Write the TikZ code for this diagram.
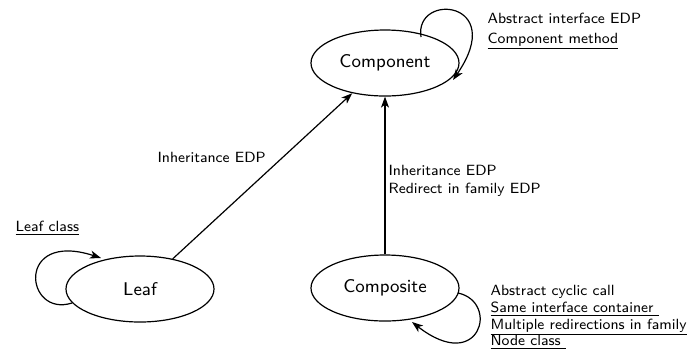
\documentclass[tikz,border=0pt]{standalone}
\usetikzlibrary{shapes.geometric,arrows.meta}
\begin{document}
\begin{tikzpicture}[x=0.5pt,y=-0.5pt,
  line width=0.6pt,
  state/.style={draw,ellipse,minimum width=74pt,minimum height=33pt,inner sep=0pt,
    font=\sffamily\fontsize{9.2pt}{11pt}\selectfont},
  lbl/.style={anchor=base west,inner sep=0pt,font=\sffamily\fontsize{7.4pt}{9pt}\selectfont},
  arr/.style={-{Stealth[length=5.5pt,width=4pt,inset=1.5pt]}}]
  \useasboundingbox (0,0) rectangle (690,350);

  % states
  \node[state] (component) at (385,63)  {Component};
  \node[state] (leaf)      at (140,289) {Leaf};
  \node[state] (composite) at (385,288) {Composite};

  % transitions between states
  \draw[arr] (leaf) -- (component);
  \draw[arr] (composite) -- (component);

  % self loops
  \coordinate (cs) at (421,37);
  \coordinate (ce) at (453,80);
  \draw[arr] (cs) .. controls (414,-8) and (508,0) .. (ce);

  \coordinate (ls) at (72,303);
  \coordinate (le) at (101,258);
  \draw[arr] (ls) .. controls (25,318) and (15,230) .. (le);

  \coordinate (ps) at (458,293);
  \coordinate (pe) at (412,322);
  \draw[arr] (ps) .. controls (500,302) and (480,375) .. (pe);

  % labels
  \node[lbl] (c1) at (487,23) {Abstract interface EDP};
  \node[lbl] (c2) at (487,43) {\underline{Component method}};

  \node[lbl] (i1) at (157,162) {Inheritance EDP};
  \node[lbl] (i2) at (388,175) {Inheritance EDP};
  \node[lbl] (i3) at (388,193) {Redirect in family EDP};

  \node[lbl] (l1) at (15,231) {\underline{Leaf class}};

  \node[lbl] (p1) at (490,295) {Abstract cyclic call};
  \node[lbl] (p2) at (490,312) {\underline{Same interface container\ }};
  \node[lbl] (p3) at (490,329) {\underline{Multiple redirections in family}};
  \node[lbl] (p4) at (490,345) {\underline{Node class\ }};
\end{tikzpicture}
\end{document}
